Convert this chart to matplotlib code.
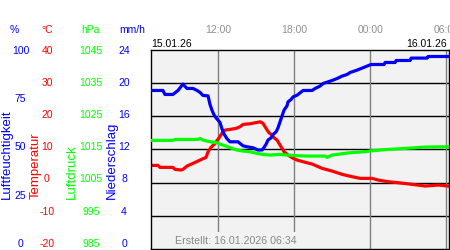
import numpy as np
import matplotlib
matplotlib.use("Agg")
import matplotlib.pyplot as plt
from matplotlib.transforms import blended_transform_factory

plt.rcParams['font.family'] = ['Liberation Sans', 'DejaVu Sans']

# --- Data (hours since 15.01.26 00:00) ---
hum_t = [6.69, 7.63, 7.79, 8.42, 8.82, 9.21, 9.53, 10.0, 10.32, 10.56, 10.79, 11.19,
         11.34, 11.50, 11.66, 11.82, 12.13, 12.29, 12.45, 12.69, 12.92, 13.56, 13.71,
         13.95, 14.27, 14.74, 15.13, 15.45, 15.61, 15.77, 15.92, 16.16, 16.32, 16.56,
         16.71, 16.87, 17.03, 17.19, 17.42, 17.50, 17.74, 17.90, 18.21, 18.45, 18.69,
         19.40, 19.64, 20.03, 20.27, 20.66, 21.06, 21.38, 21.77, 22.16, 22.40, 22.87,
         23.27, 23.66, 24.06, 25.08, 25.16, 25.95, 26.03, 27.14, 27.21, 28.48, 28.55, 30.13]
hum = [79.5, 79.5, 77.5, 77.5, 79.5, 82.7, 80.5, 80.5, 79.5, 78.5, 77.0, 76.8,
       72.6, 69.6, 67.3, 65.8, 63.5, 60.3, 57.7, 55.3, 53.8, 53.8, 53.0,
       51.8, 51.3, 50.8, 49.7, 49.7, 51.0, 52.6, 54.7, 55.8, 57.5, 58.8,
       60.8, 63.8, 66.8, 69.7, 71.8, 73.8, 75.0, 76.3, 77.1, 78.3, 79.5,
       79.5, 80.5, 81.7, 83.0, 83.8, 84.7, 85.5, 86.7, 87.5, 88.5, 89.5,
       90.5, 91.5, 92.5, 92.5, 93.5, 93.5, 94.5, 94.5, 95.7, 95.7, 96.5, 96.5]

temp_t = [6.69, 7.24, 7.40, 8.42, 8.58, 9.05, 9.21, 9.53, 10.0, 10.56, 10.79, 11.03,
          11.19, 11.42, 11.74, 12.06, 12.37, 12.53, 12.92, 13.40, 13.71, 13.95, 14.50,
          15.06, 15.29, 15.53, 15.69, 15.85, 16.0, 16.24, 16.40, 16.63, 16.79, 17.03,
          17.19, 17.50, 17.82, 18.21, 18.69, 19.40, 20.19, 20.98, 21.77, 22.56, 23.19,
          24.14, 24.61, 25.40, 26.19, 27.30, 28.32, 29.35, 30.13]
temp = [5.2, 5.2, 4.6, 4.6, 4.0, 3.8, 4.0, 5.0, 5.8, 6.8, 7.2, 7.6,
        9.3, 10.6, 11.8, 13.5, 15.3, 15.8, 16.0, 16.3, 16.8, 17.5, 17.7,
        18.1, 18.3, 17.8, 16.8, 15.8, 15.0, 14.3, 13.5, 12.8, 11.8, 10.3,
        9.3, 8.3, 7.5, 6.8, 6.3, 5.6, 4.3, 3.5, 2.5, 1.8, 1.3,
        1.3, 0.8, 0.3, 0.0, -0.5, -1.0, -0.7, -1.0]

pres_t = [6.69, 8.42, 8.58, 10.40, 10.56, 10.79, 11.11, 11.50, 11.90, 12.13, 12.53,
          12.92, 13.48, 13.95, 14.50, 15.06, 15.53, 16.08, 16.87, 17.42, 18.21, 19.0,
          20.43, 20.58, 20.98, 21.61, 22.16, 22.79, 23.58, 24.14, 25.40, 26.74, 28.32, 30.13]
pres = [1017.7, 1017.7, 1018.0, 1018.0, 1018.3, 1017.8, 1017.5, 1017.2, 1017.0, 1016.6, 1016.1,
        1015.5, 1014.8, 1014.5, 1014.3, 1013.8, 1013.5, 1013.3, 1013.5, 1013.3, 1013.1, 1013.0,
        1013.0, 1012.6, 1013.3, 1013.6, 1013.9, 1014.1, 1014.3, 1014.6, 1015.0, 1015.3, 1015.7, 1015.8]

hum_ticks = [100, 75, 50, 25, 0]
temp_ticks = [40, 30, 20, 10, 0, -10, -20]
pres_ticks = [1045, 1035, 1025, 1015, 1005, 995, 985]
rain_ticks = [24, 20, 16, 12, 8, 4, 0]
time_ticks = [12, 18, 24, 30]
time_labels = ["12:00", "18:00", "00:00", "06:00"]

BLUE, RED, GREEN = "#0000ff", "#ff0000", "#00ff00"
W, H = 450, 250

def px(x, y):
    return x / W, 1 - y / H

fig = plt.figure(figsize=(4.5, 2.5), dpi=100)
ax = fig.add_axes([150.5 / W, 1 - 249.3 / H, 298.5 / W, 199.8 / H])
ax.set_facecolor("#f2f2f2")
ax.set_xlim(6.65, 30.2)
ax.set_ylim(-20, 40)
ax.set_xticks([]); ax.set_yticks([])
for s in ax.spines.values():
    s.set_color("black"); s.set_linewidth(1); s.set_zorder(10)
for v in temp_ticks[1:-1]:
    ax.axhline(v, color="black", lw=1, zorder=1)
for t in time_ticks:
    ax.axvline(t, color="#808080", lw=1, zorder=1)

ax_p = ax.twinx(); ax_p.set_ylim(985, 1045); ax_p.axis("off")
ax_h = ax.twinx(); ax_h.set_ylim(0, 100); ax_h.axis("off")

ax_p.plot(pres_t, pres, color=GREEN, lw=2.3, zorder=3)
ax.plot(temp_t, temp, color=RED, lw=2.3, zorder=4)
ax_h.plot(hum_t, hum, color=BLUE, lw=2.3, zorder=5)

# created stamp (box hides grid lines)
ax.text(*px(175, 241), "Erstellt: 16.01.2026 06:34", transform=fig.transFigure,
        fontsize=7.7, color="#888888", va="center", ha="left", zorder=6,
        bbox=dict(facecolor="#f2f2f2", edgecolor="none", pad=3))

# time labels on top
tr = blended_transform_factory(ax.transData, fig.transFigure)
for t, lab in zip(time_ticks, time_labels):
    fig.text(t, 1 - 30 / H, lab, transform=tr, fontsize=7.5, color="#909090",
             ha="center", va="center")
fig.text(*px(151, 44), "15.01.26", fontsize=7.5, color="black", ha="left", va="center")
fig.text(*px(447, 44), "16.01.26", fontsize=7.5, color="black", ha="right", va="center")

# left scale columns
for x, lab, c in [(14, "%", BLUE), (46.7, "°C", RED), (90, "hPa", GREEN), (132.5, "mm/h", BLUE)]:
    fig.text(*px(x, 30), lab, fontsize=7.5, color=c, ha="center", va="center")
for i, v in enumerate(hum_ticks):
    fig.text(*px(20.5, 50.7 + i * 48.3), str(v), fontsize=7.5, color=BLUE, ha="center", va="center")
for i in range(7):
    y = 50.7 + i * 32.2
    fig.text(*px(47, y), str(temp_ticks[i]), fontsize=7.5, color=RED, ha="center", va="center")
    fig.text(*px(91, y), str(pres_ticks[i]), fontsize=7.5, color=GREEN, ha="center", va="center")
    fig.text(*px(124, y), str(rain_ticks[i]), fontsize=7.5, color=BLUE, ha="center", va="center")
for x, lab, c in [(6.5, "Luftfeuchtigkeit", BLUE), (35.5, "Temperatur", RED),
                  (71.7, "Luftdruck", GREEN), (111.5, "Niederschlag", BLUE)]:
    fig.text(*px(x, 199), lab, fontsize=9.5, color=c, rotation=90, ha="center", va="bottom")

fig.savefig("out.png", dpi=100)
